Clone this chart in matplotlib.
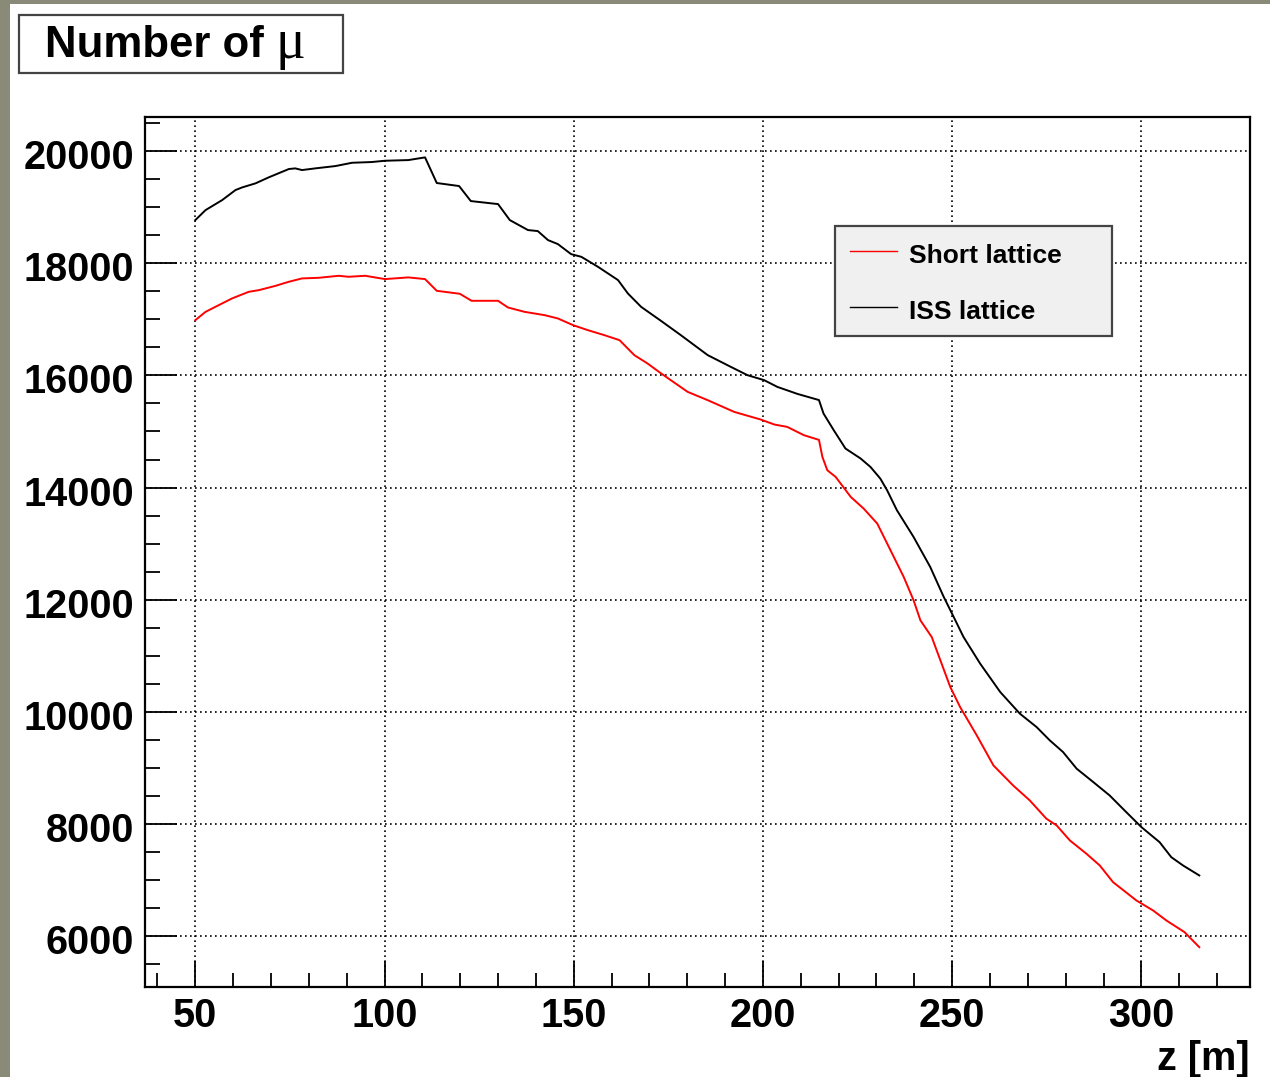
import matplotlib
matplotlib.use("Agg")
import matplotlib.pyplot as plt
from matplotlib.patches import Rectangle
from matplotlib.ticker import MultipleLocator, FixedLocator
from matplotlib.transforms import ScaledTranslation

# ---- data ----
z_iss = [50.0, 52.7, 57.1, 60.6, 62.4, 65.9, 69.4, 74.7, 76.4, 78.2, 81.7, 87.0, 91.4, 96.6,
         100.1, 106.3, 110.7, 113.8, 119.7, 122.8, 130.0, 133.1, 137.9, 140.5, 143.2, 145.8,
         149.3, 152.0, 156.4, 161.7, 164.3, 167.8, 173.1, 178.3, 185.4, 191.5, 195.9, 200.3,
         203.8, 209.1, 214.8, 216.0, 218.7, 221.8, 225.8, 228.4, 231.0, 232.8, 235.4, 239.8,
         244.2, 247.7, 250.4, 253.0, 257.4, 262.7, 267.9, 272.3, 275.8, 279.3, 282.9, 287.3,
         291.6, 296.0, 300.0, 304.8, 307.9, 311.0, 315.3]
n_iss = [18769, 18947, 19126, 19304, 19352, 19424, 19531, 19679, 19691, 19661, 19691, 19732, 19791, 19804,
         19827, 19839, 19887, 19430, 19376, 19108, 19054, 18769, 18591, 18573, 18412, 18341,
         18162, 18114, 17936, 17699, 17461, 17222, 16970, 16717, 16361, 16152, 16004, 15915,
         15795, 15670, 15560, 15320, 15023, 14696, 14518, 14368, 14161, 13952, 13595, 13119,
         12584, 12060, 11692, 11335, 10860, 10354, 9968, 9730, 9492, 9284, 8987, 8748,
         8511, 8213, 7946, 7678, 7410, 7262, 7084]

z_short = [50.0, 52.7, 55.3, 59.7, 64.1, 66.8, 71.2, 74.7, 78.2, 82.6, 87.9, 90.5, 94.9, 100.1,
           106.3, 110.7, 113.8, 119.9, 123.0, 130.0, 132.6, 137.0, 142.3, 145.8, 149.8, 153.7,
           158.1, 162.1, 166.0, 169.5, 173.1, 180.1, 185.4, 192.4, 199.4, 203.0, 206.4, 210.8,
           214.8, 215.7, 217.0, 219.2, 223.2, 226.6, 230.2, 233.7, 237.2, 239.8, 241.6, 244.6,
           249.5, 252.1, 256.5, 260.9, 266.1, 270.5, 274.9, 277.6, 281.1, 285.5, 289.0, 292.5,
           298.7, 303.1, 306.6, 311.4, 315.3]
n_short = [16985, 17133, 17222, 17372, 17490, 17520, 17597, 17669, 17729, 17740, 17776, 17758, 17776, 17717,
           17747, 17717, 17508, 17455, 17330, 17330, 17211, 17133, 17074, 17015, 16896, 16807,
           16717, 16628, 16361, 16212, 16034, 15706, 15558, 15349, 15213, 15124, 15082, 14934,
           14850, 14547, 14309, 14190, 13833, 13626, 13358, 12882, 12405, 11990, 11633, 11335,
           10443, 10086, 9581, 9046, 8689, 8422, 8095, 7976, 7708, 7470, 7262, 6965,
           6637, 6459, 6281, 6073, 5805]

x_major = [50, 100, 150, 200, 250, 300]
y_major = [6000, 8000, 10000, 12000, 14000, 16000, 18000, 20000]
title_words = "Number of "
title_symbol = "\u03bc"
x_label = "z [m]"
legend_labels = ["Short lattice", "ISS lattice"]

# ---- style ----
plt.rcParams['font.family'] = ['Liberation Sans', 'DejaVu Sans']
plt.rcParams['font.weight'] = 'bold'

W, H = 1270, 1077
fig = plt.figure(figsize=(W / 100, H / 100), dpi=100)
fig.patch.set_facecolor('#8a8a78')
# white canvas inside the olive frame (left strip 10px, top strip 4px)
fig.patches.append(Rectangle((10 / W, 0), 1 - 10 / W, 1 - 4 / H, transform=fig.transFigure,
                             facecolor='white', edgecolor='none', zorder=-5))

ax_l, ax_r, ax_t, ax_b = 145, 1250, 117, 987
ax = fig.add_axes([ax_l / W, 1 - ax_b / H, (ax_r - ax_l) / W, (ax_b - ax_t) / H])
ax.set_zorder(1)
ax.set_facecolor('white')

ax.plot(z_short, n_short, color='#ff0000', lw=1.4, label=legend_labels[0], zorder=3)
ax.plot(z_iss, n_iss, color='black', lw=1.4, label=legend_labels[1], zorder=3)

ax.set_xlim(36.7, 328.7)
ax.set_ylim(5095, 20607)

ax.xaxis.set_major_locator(FixedLocator(x_major))
ax.xaxis.set_minor_locator(MultipleLocator(10))
ax.yaxis.set_major_locator(FixedLocator(y_major))
ax.yaxis.set_minor_locator(MultipleLocator(500))

ax.tick_params(axis='both', which='both', direction='in', top=False, right=False,
               width=1.3, color='black')
ax.tick_params(axis='x', which='major', length=19, pad=7, labelsize=28.5)
ax.tick_params(axis='x', which='minor', length=10)
ax.tick_params(axis='y', which='major', length=23, pad=8, labelsize=28.5)
ax.tick_params(axis='y', which='minor', length=11)
for lab in ax.get_xticklabels() + ax.get_yticklabels():
    lab.set_fontweight('bold')
# nudge y tick labels slightly down, as in the reference
for t in ax.yaxis.get_major_ticks(len(y_major)):
    t.label1.set_transform(t.label1.get_transform() +
                           ScaledTranslation(0, -3 / 100, fig.dpi_scale_trans))

ax.grid(True, which='major', color='black', linestyle=(0, (1, 2)), linewidth=1.2)
ax.set_axisbelow(True)
for sp in ax.spines.values():
    sp.set_linewidth(1.6)
    sp.set_color('black')

ax.set_xlabel(x_label, fontsize=28.5, fontweight='bold')
ax.xaxis.label.set_ha('right')
ax.xaxis.label.set_va('baseline')
ax.xaxis.set_label_coords(1.0, -(1070 - ax_b) / (ax_b - ax_t))

# legend
lx0, lx1, ly0, ly1 = 835, 1112, 226, 335
leg = ax.legend(loc='upper left',
                bbox_to_anchor=((lx0 - ax_l) / (ax_r - ax_l), 1 - (ly1 - ax_t) / (ax_b - ax_t),
                                (lx1 - lx0) / (ax_r - ax_l), (ly1 - ly0) / (ax_b - ax_t)),
                mode='expand', borderaxespad=0, prop={'weight': 'bold', 'size': 19},
                fancybox=False, shadow=False, framealpha=1, facecolor='#f0f0f0',
                edgecolor='#444444', handlelength=1.8, handletextpad=0.45,
                labelspacing=1.22, borderpad=0.56)
leg.get_frame().set_linewidth(1.6)
for ln in leg.get_lines():
    ln.set_linewidth(1.0)
for txt in leg.get_texts():
    txt.set_transform(txt.get_transform() + ScaledTranslation(0, -3 / 100, fig.dpi_scale_trans))

# title box
tb_x0, tb_x1, tb_y0, tb_y1 = 19, 343, 15, 73
fig.patches.append(Rectangle((tb_x0 / W, 1 - tb_y1 / H), (tb_x1 - tb_x0) / W, (tb_y1 - tb_y0) / H,
                             transform=fig.transFigure, facecolor='white',
                             edgecolor='#444444', linewidth=1.6, zorder=1))
t1 = fig.text(45 / W, 1 - 57 / H, title_words, fontsize=31.5, fontweight='bold',
              ha='left', va='baseline', zorder=2)
renderer = fig.canvas.get_renderer()
bb = t1.get_window_extent(renderer=renderer)
fig.text(bb.x1 / W, 1 - 58 / H, title_symbol, fontsize=40, fontweight='normal',
         family='Liberation Serif', ha='left', va='baseline', zorder=2)

fig.savefig('out.png', dpi=100, facecolor=fig.get_facecolor())
